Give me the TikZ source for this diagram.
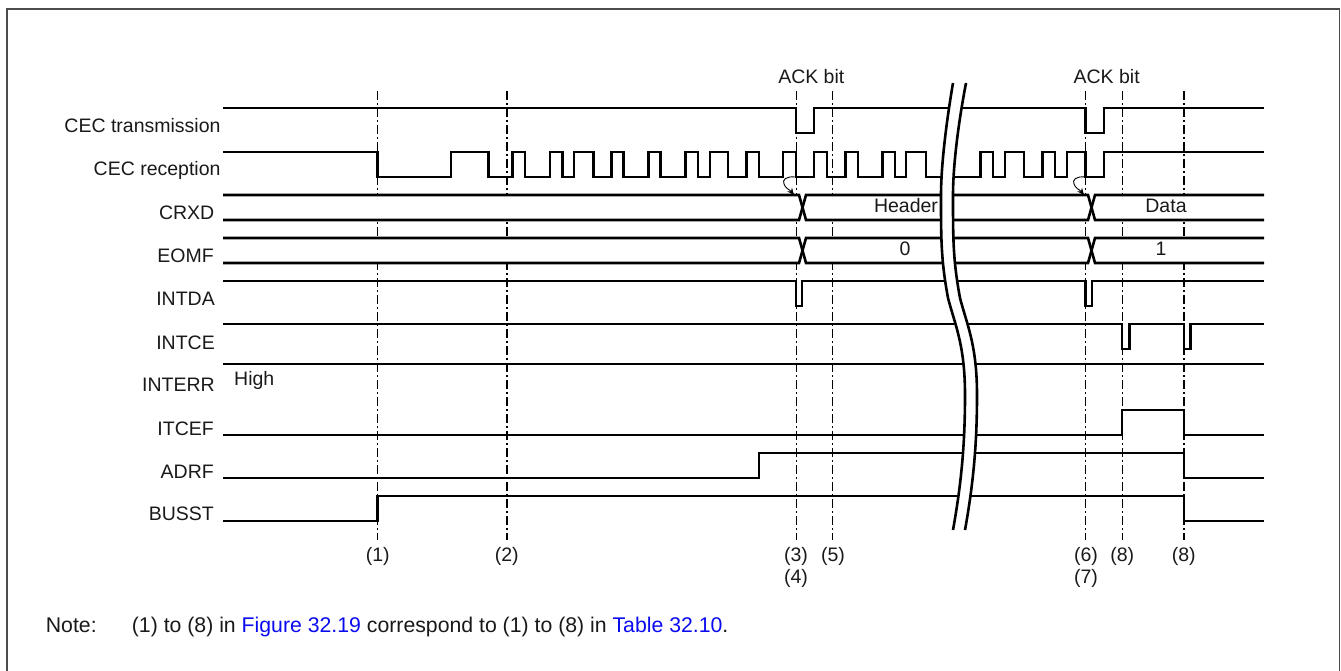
\documentclass[tikz,border=0pt]{standalone}
\usepackage{fontspec}
\setmainfont{Liberation Sans}
\usetikzlibrary{arrows.meta}
\definecolor{linkblue}{RGB}{10,10,240}
\tikzset{
  sig/.style={line width=2.6pt,line join=miter},
  guide/.style={line width=1.3pt,dash pattern=on 9pt off 3pt on 2pt off 3pt},
  sigtext/.style={font=\fontsize{19.5}{23}\selectfont,inner sep=0pt,text=black!90},
  lbl/.style={sigtext,anchor=base east},
  cen/.style={sigtext,anchor=base},
  notetext/.style={font=\fontsize{21.25}{25}\selectfont,inner sep=0pt,anchor=base west,text=black!90},
  brk/.style={line width=2.6pt},
  capt/.style={line width=0.9pt,-{Stealth[length=7pt,width=6pt]}},
}
\begin{document}
\begin{tikzpicture}[x=1pt,y=-1pt]
\useasboundingbox (0,0) rectangle (1341,671);
\draw[line width=1.6pt,black!70] (6.7,671) -- (6.7,9) -- (1339.3,9) -- (1339.3,671);
% guides
\foreach \x/\n in {377.5/a,507/b,796.5/c,832.5/d,1085.5/e,1122.5/f,1184/g}{
  \coordinate (t\n) at (\x,91);
  \coordinate (u\n) at (\x,540);
  \draw[guide] (t\n) -- (u\n);
}
% signals
\draw[sig] (223,108) -- (796,108) -- (796,133) -- (814,133) -- (814,108) -- (1085.7,108) -- (1085.7,133) -- (1104,133) -- (1104,108) -- (1264,108);
\draw[sig] (223,152) -- (377.5,152) -- (377.5,177) -- (451,177) -- (451,152) -- (488.3,152) -- (488.3,177) -- (512.7,177) -- (512.7,152) -- (525,152) -- (525,177)
 -- (550,177) -- (550,152) -- (562.3,152) -- (562.3,177) -- (574,177) -- (574,152) -- (593.3,152) -- (593.3,177) -- (611.7,177) -- (611.7,152) -- (623.3,152) -- (623.3,177)
 -- (648.3,177) -- (648.3,152) -- (660.7,152) -- (660.7,177) -- (685.7,177) -- (685.7,152) -- (698,152) -- (698,177) -- (710,177) -- (710,152) -- (728,152) -- (728,177)
 -- (746.7,177) -- (746.7,152) -- (759,152) -- (759,177) -- (783,177) -- (783,152) -- (796,152) -- (796,177) -- (814,177) -- (814,152) -- (827,152) -- (827,177)
 -- (845.7,177) -- (845.7,152) -- (858,152) -- (858,177) -- (882.7,177) -- (882.7,152) -- (895,152) -- (895,177) -- (906,177) -- (906,152) -- (926,152) -- (926,177)
 -- (956.7,177) -- (980.7,177) -- (980.7,152) -- (993,152) -- (993,177) -- (1005,177) -- (1005,152) -- (1024,152) -- (1024,177) -- (1042.7,177) -- (1042.7,152) -- (1055,152) -- (1055,177)
 -- (1067,177) -- (1067,152) -- (1085.7,152) -- (1085.7,177) -- (1104,177) -- (1104,152) -- (1264,152);
% buses
\foreach \ya/\yb in {195/220,238/263}{
  \fill[white] (223,\ya) rectangle (1264,\yb);
  \draw[sig] (223,\ya) -- (799,\ya) -- (806,\yb) -- (1088,\yb) -- (1095,\ya) -- (1264,\ya);
  \draw[sig] (223,\yb) -- (799,\yb) -- (806,\ya) -- (1088,\ya) -- (1095,\yb) -- (1264,\yb);
}
\draw[sig] (223,281) -- (796,281) -- (796,306) -- (802,306) -- (802,281) -- (1085.7,281) -- (1085.7,306) -- (1092,306) -- (1092,281) -- (1264,281);
\draw[sig] (223,324) -- (1122,324) -- (1122,349) -- (1129.3,349) -- (1129.3,324) -- (1184,324) -- (1184,349) -- (1190.7,349) -- (1190.7,324) -- (1264,324);
\draw[sig] (223,364) -- (1264,364);
\draw[sig] (223,435) -- (1122,435) -- (1122,410) -- (1184,410) -- (1184,435) -- (1264,435);
\draw[sig] (223,478) -- (759,478) -- (759,453) -- (1184,453) -- (1184,478) -- (1264,478);
\draw[sig] (223,521) -- (377.5,521) -- (377.5,496) -- (1184,496) -- (1184,521) -- (1264,521);
% capture arrows
\coordinate (ca) at (795,177); \coordinate (cb) at (794,195);
\draw[capt] (ca) .. controls (786,176) and (782,180) .. (784,184) .. controls (785,188) and (790,190) .. (cb);
\coordinate (cc) at (1085,177); \coordinate (cd) at (1084,195);
\draw[capt] (cc) .. controls (1076,176) and (1072,180) .. (1074,184) .. controls (1075,188) and (1080,190) .. (cd);
% break
\fill[white] (953,83) .. controls (945,130) and (941,170) .. (941,195) .. controls (941,240) and (941,260) .. (948,298)
  .. controls (955,325) and (965,345) .. (965,395) .. controls (965,440) and (962,480) .. (953,530)
  -- (965,530) .. controls (974,480) and (977,440) .. (977,395) .. controls (977,345) and (967,325) .. (960,298)
  .. controls (953,260) and (953,240) .. (953,195) .. controls (953,170) and (957,130) .. (966,83) -- cycle;
\draw[brk] (953,83) .. controls (945,130) and (941,170) .. (941,195) .. controls (941,240) and (941,260) .. (948,298)
  .. controls (955,325) and (965,345) .. (965,395) .. controls (965,440) and (962,480) .. (953,530);
\draw[brk] (966,83) .. controls (957,130) and (953,170) .. (953,195) .. controls (953,240) and (953,260) .. (960,298)
  .. controls (967,325) and (977,345) .. (977,395) .. controls (977,440) and (974,480) .. (965,530);
% labels
\node[lbl] (l1) at (220.7,132.7) {CEC transmission};
\node[lbl] (l2) at (220.7,175.7) {CEC reception};
\node[lbl] (l3) at (214.5,220) {CRXD};
\node[lbl] (l4) at (214,262.7) {EOMF};
\node[lbl] (l5) at (215,305.7) {INTDA};
\node[lbl] (l6) at (215,349) {INTCE};
\node[lbl] (l7) at (215,391.7) {INTERR};
\node[sigtext,anchor=base west] (hi) at (234,385.7) {High};
\node[lbl] (l8) at (214,435) {ITCEF};
\node[lbl] (l9) at (214,478.3) {ADRF};
\node[lbl] (l10) at (214,520.7) {BUSST};
\node[cen] (ack1) at (811.3,83.3) {ACK bit};
\node[cen] (ack2) at (1106.7,83.3) {ACK bit};
\node[cen] (hd) at (906,212.7) {Header};
\node[cen] (zero) at (905,255.7) {0};
\node[cen] (dat) at (1166,212.7) {Data};
\node[cen] (one) at (1161,255.7) {1};
\node[cen] (n1) at (377.7,561.5) {(1)};
\node[cen] (n2) at (506.7,561.5) {(2)};
\node[cen] (n3) at (796,561.5) {(3)};
\node[cen] (n4) at (796,583.5) {(4)};
\node[cen] (n5) at (833,561.5) {(5)};
\node[cen] (n6) at (1086,561.5) {(6)};
\node[cen] (n7) at (1086,583.5) {(7)};
\node[cen] (n8) at (1122.3,561.5) {(8)};
\node[cen] (n9) at (1183.7,561.5) {(8)};
\node[notetext] (note) at (45.7,632) {Note:};
\node[notetext] (notet) at (131.7,632) {(1) to (8) in \textcolor{linkblue}{Figure 32.19} correspond to (1) to (8) in \textcolor{linkblue}{Table 32.10}.};
\end{tikzpicture}
\end{document}
